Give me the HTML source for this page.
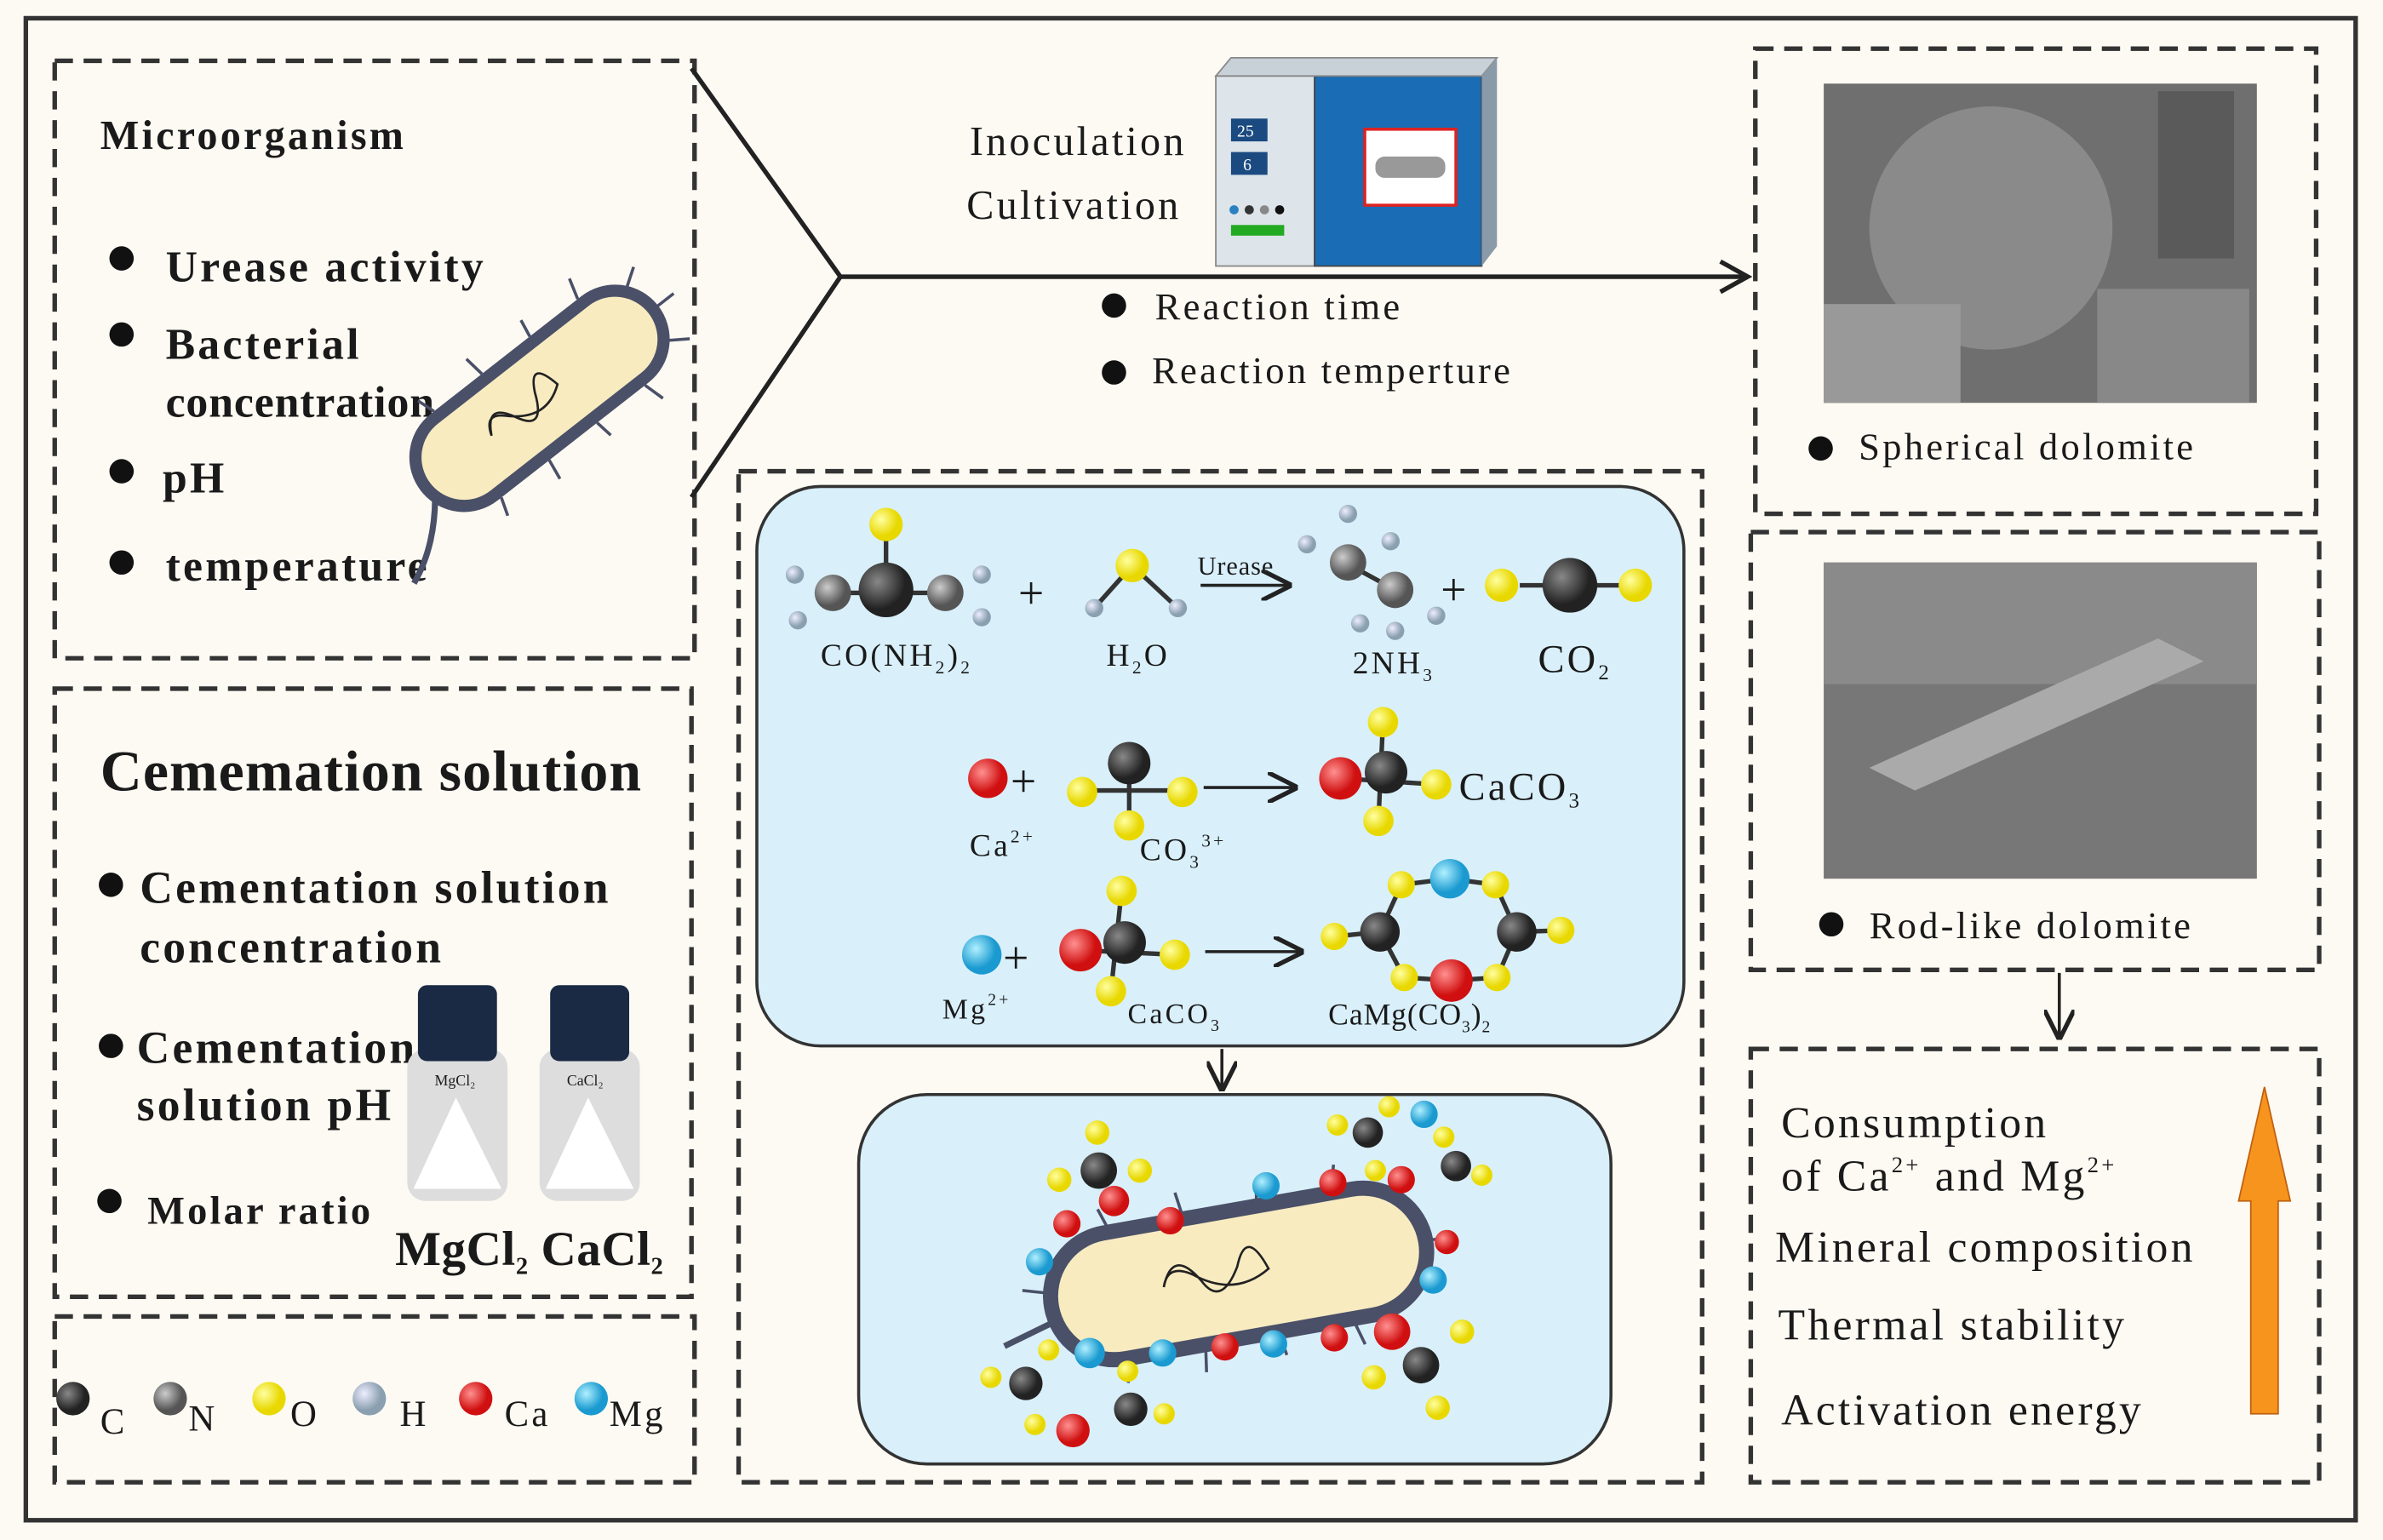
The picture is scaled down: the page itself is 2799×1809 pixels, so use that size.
<!DOCTYPE html>
<html><head><meta charset="utf-8"><style>
html,body{margin:0;padding:0;background:#fff}
svg{display:block}
text{font-family:"Liberation Serif",serif;fill:#1a1a1a;letter-spacing:1.8px}
.b{font-weight:bold}
</style></head><body>
<svg width="2799" height="1809" viewBox="0 0 1568 1013" preserveAspectRatio="none" xmlns="http://www.w3.org/2000/svg">
<defs>
<radialGradient id="gC" cx="35%" cy="35%"><stop offset="0" stop-color="#888"/><stop offset="1" stop-color="#222"/></radialGradient>
<radialGradient id="gN" cx="35%" cy="35%"><stop offset="0" stop-color="#ccc"/><stop offset="1" stop-color="#555"/></radialGradient>
<radialGradient id="gO" cx="35%" cy="35%"><stop offset="0" stop-color="#ffffa0"/><stop offset="1" stop-color="#e8d800"/></radialGradient>
<radialGradient id="gH" cx="35%" cy="35%"><stop offset="0" stop-color="#eef"/><stop offset="1" stop-color="#8aa0b0"/></radialGradient>
<radialGradient id="gCa" cx="35%" cy="35%"><stop offset="0" stop-color="#ff9090"/><stop offset="1" stop-color="#d01010"/></radialGradient>
<radialGradient id="gMg" cx="35%" cy="35%"><stop offset="0" stop-color="#b0f0ff"/><stop offset="1" stop-color="#1a9ad0"/></radialGradient>
<marker id="ar" markerWidth="10" markerHeight="10" refX="9" refY="5" orient="auto"><path d="M0,0 L10,5 L0,10" fill="none" stroke="#222" stroke-width="1.5"/></marker>
</defs>
<rect width="1568" height="1013" fill="#fdfaf3"/>
<rect x="17" y="12" width="1533" height="988" fill="none" stroke="#333" stroke-width="3"/>
<g fill="none" stroke="#333" stroke-width="3" stroke-dasharray="12,7">
<rect x="36" y="40" width="421" height="393"/>
<rect x="36" y="453" width="419" height="400"/>
<rect x="36" y="866" width="421" height="109"/>
<rect x="486" y="310" width="634" height="665"/>
<rect x="1155" y="32" width="369" height="306"/>
<rect x="1152" y="350" width="374" height="288"/>
<rect x="1152" y="690" width="374" height="285"/>
</g>
<polyline points="455,45 553,182 455,327" fill="none" stroke="#222" stroke-width="3"/>
<line x1="553" y1="182" x2="1150" y2="182" stroke="#222" stroke-width="3"/>
<path d="M1132,172 L1150,182 L1132,192" fill="none" stroke="#222" stroke-width="3"/>
<text x="66" y="98" font-size="27" class="b">Microorganism</text>
<g font-size="29" class="b">
<circle cx="80" cy="170" r="8" fill="#111"/><text x="109" y="185">Urease activity</text>
<circle cx="80" cy="220" r="8" fill="#111"/><text x="109" y="236">Bacterial</text><text x="109" y="274" style="letter-spacing:0.5px">concentration</text>
<circle cx="80" cy="310" r="8" fill="#111"/><text x="107" y="324">pH</text>
<circle cx="80" cy="370" r="8" fill="#111"/><text x="109" y="382">temperature</text>
</g>
<g transform="translate(355,262) rotate(-38)">
<g stroke="#4a5068" stroke-width="2">
<line x1="-60" y1="-36" x2="-64" y2="-48"/><line x1="-20" y1="-36" x2="-22" y2="-50"/><line x1="20" y1="-36" x2="22" y2="-48"/><line x1="60" y1="-36" x2="64" y2="-50"/>
<line x1="-60" y1="36" x2="-64" y2="48"/><line x1="-20" y1="36" x2="-22" y2="50"/><line x1="20" y1="36" x2="22" y2="48"/><line x1="60" y1="36" x2="64" y2="50"/>
<line x1="98" y1="0" x2="112" y2="0"/><line x1="90" y1="-22" x2="102" y2="-30"/><line x1="90" y1="22" x2="102" y2="30"/>
</g>
<rect x="-95" y="-32" width="190" height="64" rx="32" fill="#f8ebc0" stroke="#4a5068" stroke-width="8"/>
<path d="M-95,10 Q-115,35 -140,45" fill="none" stroke="#4a5068" stroke-width="4"/>
<path d="M-40,0 q10,-20 20,0 q10,20 20,-5 q10,-20 15,5 q-20,15 -40,-5 q-10,-10 -15,5" fill="none" stroke="#222" stroke-width="1.5"/>
</g>
<text x="66" y="520" font-size="38" class="b" style="letter-spacing:0.6px">Cememation solution</text>
<g font-size="30" class="b" style="letter-spacing:1px">
<circle cx="73" cy="582" r="8" fill="#111"/><text x="92" y="594">Cementation solution</text><text x="92" y="633">concentration</text>
<circle cx="73" cy="688" r="8" fill="#111"/><text x="90" y="699">Cementation</text><text x="90" y="737">solution pH</text>
</g>
<circle cx="72" cy="790" r="8" fill="#111"/><text x="97" y="805" font-size="26" class="b">Molar ratio</text>
<g>
<rect x="268" y="690" width="66" height="100" rx="12" fill="#ddd"/><rect x="275" y="648" width="52" height="50" rx="6" fill="#1a2a44"/>
<text x="286" y="714" font-size="10" style="letter-spacing:0">MgCl₂</text>
<rect x="355" y="690" width="66" height="100" rx="12" fill="#ddd"/><rect x="362" y="648" width="52" height="50" rx="6" fill="#1a2a44"/>
<text x="373" y="714" font-size="10" style="letter-spacing:0">CaCl₂</text>
<path d="M300,722 L330,782 L272,782 Z M387,722 L417,782 L359,782 Z" fill="#fff"/>
</g>
<text x="260" y="832" font-size="32" class="b" style="letter-spacing:0.3px">MgCl<tspan font-size="16" dy="6">2</tspan><tspan dy="-6"> CaCl</tspan><tspan font-size="16" dy="6">2</tspan></text>
<g font-size="24" style="letter-spacing:0">
<circle cx="48" cy="920" r="11" fill="url(#gC)"/><text x="66" y="943">C</text>
<circle cx="112" cy="920" r="11" fill="url(#gN)"/><text x="124" y="941">N</text>
<circle cx="177" cy="920" r="11" fill="url(#gO)"/><text x="191" y="938">O</text>
<circle cx="243" cy="920" r="11" fill="url(#gH)"/><text x="263" y="938">H</text>
<circle cx="313" cy="920" r="11" fill="url(#gCa)"/><text x="332" y="938">Ca</text>
<circle cx="389" cy="920" r="11" fill="url(#gMg)"/><text x="401" y="938">Mg</text>
</g>
<text x="638" y="102" font-size="27">Inoculation</text>
<text x="636" y="144" font-size="27">Cultivation</text>
<rect x="800" y="50" width="65" height="125" fill="#dde4ea" stroke="#888"/>
<rect x="865" y="50" width="110" height="125" fill="#1a6db5" stroke="#444"/>
<polygon points="800,50 810,38 985,38 975,50" fill="#c8d0d8" stroke="#888"/>
<polygon points="975,50 985,38 985,162 975,175" fill="#8a9aa8"/>
<rect x="898" y="85" width="60" height="50" fill="#fff" stroke="#d22" stroke-width="2"/>
<rect x="905" y="103" width="46" height="14" rx="6" fill="#999"/>
<rect x="810" y="78" width="24" height="15" fill="#1a4a80"/><text x="814" y="90" font-size="11" style="fill:#fff;letter-spacing:0">25</text>
<rect x="810" y="100" width="24" height="15" fill="#1a4a80"/><text x="818" y="112" font-size="11" style="fill:#fff;letter-spacing:0">6</text>
<circle cx="812" cy="138" r="3" fill="#2a80c0"/><circle cx="822" cy="138" r="3" fill="#333"/><circle cx="832" cy="138" r="3" fill="#888"/><circle cx="842" cy="138" r="3" fill="#111"/>
<rect x="810" y="148" width="35" height="7" fill="#2a2"/>
<g font-size="25">
<circle cx="733" cy="201" r="8" fill="#111"/><text x="760" y="210">Reaction time</text>
<circle cx="733" cy="245" r="8" fill="#111"/><text x="758" y="252">Reaction temperture</text>
</g>
<rect x="1200" y="55" width="285" height="210" fill="#6f6f6f"/>
<circle cx="1310" cy="150" r="80" fill="#8a8a8a"/><rect x="1420" y="60" width="50" height="110" fill="#5a5a5a"/>
<rect x="1200" y="200" width="90" height="65" fill="#999"/><rect x="1380" y="190" width="100" height="75" fill="#888"/>
<circle cx="1198" cy="295" r="8" fill="#111"/><text x="1223" y="302" font-size="25">Spherical dolomite</text>
<rect x="1200" y="370" width="285" height="208" fill="#777"/>
<rect x="1200" y="370" width="285" height="80" fill="#8a8a8a"/>
<polygon points="1230,505 1420,420 1450,435 1260,520" fill="#aaa"/>
<circle cx="1205" cy="608" r="8" fill="#111"/><text x="1230" y="617" font-size="25">Rod-like dolomite</text>
<line x1="1355" y1="640" x2="1355" y2="682" stroke="#222" stroke-width="2" marker-end="url(#ar)"/>
<g font-size="29">
<text x="1172" y="748">Consumption</text>
<text x="1172" y="783">of Ca<tspan font-size="15" dy="-12">2+</tspan><tspan dy="12"> and Mg</tspan><tspan font-size="15" dy="-12">2+</tspan></text>
<text x="1168" y="830">Mineral composition</text>
<text x="1170" y="881">Thermal stability</text>
<text x="1172" y="937">Activation energy</text>
</g>
<polygon points="1490,715 1507,790 1499,790 1499,930 1481,930 1481,790 1473,790" fill="#f7941d" stroke="#c06010"/>
<rect x="498" y="320" width="610" height="368" rx="42" fill="#d9f0fb" stroke="#333" stroke-width="2"/>
<rect x="565" y="720" width="495" height="243" rx="45" fill="#d9f0fb" stroke="#333" stroke-width="2"/>
<line x1="804" y1="690" x2="804" y2="716" stroke="#222" stroke-width="2" marker-end="url(#ar)"/>
<g stroke="#333" stroke-width="3">
<line x1="548" y1="390" x2="622" y2="390"/><line x1="583" y1="345" x2="583" y2="390"/>
<line x1="720" y1="400" x2="745" y2="372"/><line x1="745" y1="372" x2="775" y2="400"/>
<line x1="1000" y1="385" x2="1075" y2="385"/>
<line x1="885" y1="370" x2="918" y2="388"/>
</g>
<circle cx="583" cy="345" r="11" fill="url(#gO)"/>
<circle cx="548" cy="390" r="12" fill="url(#gN)"/><circle cx="583" cy="388" r="18" fill="url(#gC)"/><circle cx="622" cy="390" r="12" fill="url(#gN)"/>
<circle cx="523" cy="378" r="6" fill="url(#gH)"/><circle cx="525" cy="408" r="6" fill="url(#gH)"/><circle cx="646" cy="378" r="6" fill="url(#gH)"/><circle cx="646" cy="406" r="6" fill="url(#gH)"/>
<text x="670" y="400" font-size="30">+</text>
<circle cx="745" cy="372" r="11" fill="url(#gO)"/><circle cx="720" cy="400" r="6" fill="url(#gH)"/><circle cx="775" cy="400" r="6" fill="url(#gH)"/>
<text x="788" y="378" font-size="17" style="letter-spacing:0.5px">Urease</text>
<line x1="790" y1="385" x2="848" y2="385" stroke="#222" stroke-width="2" marker-end="url(#ar)"/>
<circle cx="887" cy="370" r="12" fill="url(#gN)"/><circle cx="918" cy="388" r="12" fill="url(#gN)"/>
<circle cx="887" cy="338" r="6" fill="url(#gH)"/><circle cx="860" cy="358" r="6" fill="url(#gH)"/><circle cx="915" cy="356" r="6" fill="url(#gH)"/><circle cx="895" cy="410" r="6" fill="url(#gH)"/><circle cx="945" cy="405" r="6" fill="url(#gH)"/><circle cx="918" cy="415" r="6" fill="url(#gH)"/>
<text x="948" y="398" font-size="30">+</text>
<circle cx="988" cy="385" r="11" fill="url(#gO)"/><circle cx="1033" cy="385" r="18" fill="url(#gC)"/><circle cx="1076" cy="385" r="11" fill="url(#gO)"/>
<g font-size="21">
<text x="540" y="438">CO(NH<tspan font-size="12" dy="5">2</tspan><tspan dy="-5">)</tspan><tspan font-size="12" dy="5">2</tspan></text>
<text x="728" y="438">H<tspan font-size="12" dy="5">2</tspan><tspan dy="-5">O</tspan></text>
<text x="890" y="443">2NH<tspan font-size="12" dy="5">3</tspan></text>
<text x="1012" y="442" font-size="26">CO<tspan font-size="14" dy="5">2</tspan></text>
</g>
<circle cx="650" cy="512" r="13" fill="url(#gCa)"/><text x="665" y="524" font-size="30">+</text>
<g stroke="#333" stroke-width="3"><line x1="712" y1="520" x2="778" y2="520"/><line x1="743" y1="500" x2="743" y2="545"/></g>
<circle cx="712" cy="521" r="10" fill="url(#gO)"/><circle cx="778" cy="521" r="10" fill="url(#gO)"/><circle cx="743" cy="543" r="10" fill="url(#gO)"/><circle cx="743" cy="502" r="14" fill="url(#gC)"/>
<text x="638" y="563" font-size="21">Ca<tspan font-size="12" dy="-9">2+</tspan></text>
<text x="750" y="566" font-size="21">CO<tspan font-size="12" dy="5">3</tspan><tspan font-size="12" dy="-14">3+</tspan></text>
<line x1="792" y1="518" x2="852" y2="518" stroke="#222" stroke-width="2" marker-end="url(#ar)"/>
<g stroke="#333" stroke-width="3"><line x1="882" y1="512" x2="945" y2="516"/><line x1="910" y1="475" x2="907" y2="540"/></g>
<circle cx="882" cy="512" r="14" fill="url(#gCa)"/><circle cx="912" cy="508" r="14" fill="url(#gC)"/><circle cx="910" cy="475" r="10" fill="url(#gO)"/><circle cx="945" cy="516" r="10" fill="url(#gO)"/><circle cx="907" cy="540" r="10" fill="url(#gO)"/>
<text x="960" y="526" font-size="26">CaCO<tspan font-size="14" dy="5">3</tspan></text>
<circle cx="646" cy="628" r="13" fill="url(#gMg)"/><text x="660" y="640" font-size="30">+</text>
<g stroke="#333" stroke-width="3"><line x1="711" y1="625" x2="773" y2="628"/><line x1="738" y1="586" x2="731" y2="652"/></g>
<circle cx="711" cy="625" r="14" fill="url(#gCa)"/><circle cx="740" cy="620" r="14" fill="url(#gC)"/><circle cx="738" cy="586" r="10" fill="url(#gO)"/><circle cx="773" cy="628" r="10" fill="url(#gO)"/><circle cx="731" cy="652" r="10" fill="url(#gO)"/>
<text x="620" y="670" font-size="19">Mg<tspan font-size="11" dy="-9">2+</tspan></text>
<text x="742" y="673" font-size="19">CaCO<tspan font-size="11" dy="5">3</tspan></text>
<line x1="793" y1="626" x2="856" y2="626" stroke="#222" stroke-width="2" marker-end="url(#ar)"/>
<g stroke="#333" stroke-width="3" fill="none"><polygon points="908,613 922,582 954,578 984,582 998,613 985,643 955,645 924,643"/><line x1="878" y1="616" x2="908" y2="613"/><line x1="998" y1="613" x2="1027" y2="612"/></g>
<circle cx="908" cy="613" r="13" fill="url(#gC)"/><circle cx="998" cy="613" r="13" fill="url(#gC)"/><circle cx="954" cy="578" r="13" fill="url(#gMg)"/><circle cx="955" cy="645" r="14" fill="url(#gCa)"/>
<circle cx="922" cy="582" r="9" fill="url(#gO)"/><circle cx="984" cy="582" r="9" fill="url(#gO)"/><circle cx="924" cy="643" r="9" fill="url(#gO)"/><circle cx="985" cy="643" r="9" fill="url(#gO)"/><circle cx="878" cy="616" r="9" fill="url(#gO)"/><circle cx="1027" cy="612" r="9" fill="url(#gO)"/>
<text x="874" y="674" font-size="20" style="letter-spacing:0.5px">CaMg(CO<tspan font-size="11" dy="5">3</tspan><tspan dy="-5">)</tspan><tspan font-size="11" dy="5">2</tspan></text>
<g transform="translate(815,838) rotate(-10)">
<g stroke="#4a5068" stroke-width="2">
<line x1="-80" y1="-46" x2="-84" y2="-58"/><line x1="-30" y1="-46" x2="-32" y2="-60"/><line x1="20" y1="-46" x2="22" y2="-58"/><line x1="70" y1="-46" x2="74" y2="-60"/>
<line x1="-80" y1="46" x2="-84" y2="58"/><line x1="-30" y1="46" x2="-32" y2="60"/><line x1="20" y1="46" x2="22" y2="58"/><line x1="70" y1="46" x2="74" y2="60"/>
<line x1="128" y1="0" x2="142" y2="0"/><line x1="-128" y1="-10" x2="-142" y2="-14"/>
</g>
<rect x="-125" y="-42" width="250" height="84" rx="42" fill="#f8ebc0" stroke="#4a5068" stroke-width="10"/>
<path d="M-125,10 L-160,20" stroke="#4a5068" stroke-width="4"/>
<path d="M-50,0 q10,-25 25,0 q10,20 25,-5 q10,-25 20,5 q-25,15 -50,-5 q-15,-10 -20,5" fill="none" stroke="#222" stroke-width="1.5"/>
</g>
<g>
<circle cx="702" cy="805" r="9" fill="url(#gCa)"/><circle cx="733" cy="790" r="10" fill="url(#gCa)"/><circle cx="770" cy="803" r="9" fill="url(#gCa)"/><circle cx="833" cy="780" r="9" fill="url(#gMg)"/><circle cx="877" cy="778" r="9" fill="url(#gCa)"/><circle cx="684" cy="830" r="9" fill="url(#gMg)"/>
<circle cx="717" cy="890" r="10" fill="url(#gMg)"/><circle cx="765" cy="890" r="9" fill="url(#gMg)"/><circle cx="806" cy="886" r="9" fill="url(#gCa)"/><circle cx="838" cy="884" r="9" fill="url(#gMg)"/><circle cx="878" cy="880" r="9" fill="url(#gCa)"/><circle cx="916" cy="876" r="12" fill="url(#gCa)"/>
<circle cx="943" cy="842" r="9" fill="url(#gMg)"/><circle cx="952" cy="817" r="8" fill="url(#gCa)"/>
<circle cx="723" cy="770" r="12" fill="url(#gC)"/><circle cx="722" cy="745" r="8" fill="url(#gO)"/><circle cx="697" cy="776" r="8" fill="url(#gO)"/><circle cx="750" cy="770" r="8" fill="url(#gO)"/>
<circle cx="900" cy="745" r="10" fill="url(#gC)"/><circle cx="958" cy="767" r="10" fill="url(#gC)"/><circle cx="937" cy="733" r="9" fill="url(#gMg)"/><circle cx="922" cy="776" r="9" fill="url(#gCa)"/><circle cx="914" cy="728" r="7" fill="url(#gO)"/><circle cx="880" cy="740" r="7" fill="url(#gO)"/><circle cx="950" cy="748" r="7" fill="url(#gO)"/><circle cx="975" cy="773" r="7" fill="url(#gO)"/><circle cx="905" cy="770" r="7" fill="url(#gO)"/>
<circle cx="675" cy="910" r="11" fill="url(#gC)"/><circle cx="744" cy="927" r="11" fill="url(#gC)"/><circle cx="706" cy="941" r="11" fill="url(#gCa)"/><circle cx="652" cy="906" r="7" fill="url(#gO)"/><circle cx="690" cy="888" r="7" fill="url(#gO)"/><circle cx="681" cy="937" r="7" fill="url(#gO)"/><circle cx="742" cy="902" r="7" fill="url(#gO)"/><circle cx="766" cy="930" r="7" fill="url(#gO)"/>
<circle cx="935" cy="898" r="12" fill="url(#gC)"/><circle cx="962" cy="876" r="8" fill="url(#gO)"/><circle cx="904" cy="906" r="8" fill="url(#gO)"/><circle cx="946" cy="926" r="8" fill="url(#gO)"/>
</g>
</svg>
</body></html>
